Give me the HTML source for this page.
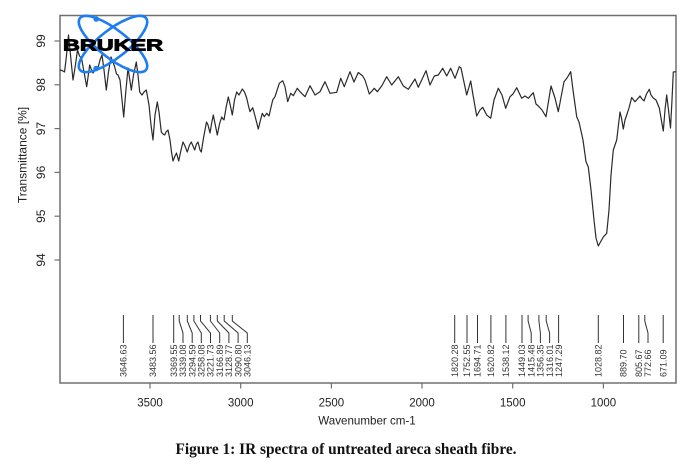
<!DOCTYPE html>
<html><head><meta charset="utf-8"><style>
html,body{margin:0;padding:0;background:#fff;}
svg{display:block;}
text{font-family:"Liberation Sans",Arial,sans-serif;}
</style></head><body>
<svg width="691" height="470" viewBox="0 0 691 470" xmlns="http://www.w3.org/2000/svg">
<rect width="691" height="470" fill="#fff"/>
<!-- plot box -->
<rect x="60" y="15.5" width="616" height="367.5" fill="none" stroke="#707070" stroke-width="1.5"/>
<!-- y ticks -->
<g stroke="#707070" stroke-width="1.2">
<line x1="54.5" y1="41" x2="60" y2="41"/>
<line x1="54.5" y1="84.8" x2="60" y2="84.8"/>
<line x1="54.5" y1="128.6" x2="60" y2="128.6"/>
<line x1="54.5" y1="172.4" x2="60" y2="172.4"/>
<line x1="54.5" y1="216.2" x2="60" y2="216.2"/>
<line x1="54.5" y1="260" x2="60" y2="260"/>
</g>
<g font-size="12" fill="#222" text-anchor="middle">
<text transform="translate(45,41) rotate(-90)">99</text>
<text transform="translate(45,84.8) rotate(-90)">98</text>
<text transform="translate(45,128.6) rotate(-90)">97</text>
<text transform="translate(45,172.4) rotate(-90)">96</text>
<text transform="translate(45,216.2) rotate(-90)">95</text>
<text transform="translate(45,260) rotate(-90)">94</text>
</g>
<text transform="translate(26.5,155) rotate(-90)" font-size="12" fill="#222" text-anchor="middle">Transmittance [%]</text>
<!-- x ticks -->
<g stroke="#707070" stroke-width="1.2">
<line x1="150" y1="383" x2="150" y2="388.5"/>
<line x1="240.7" y1="383" x2="240.7" y2="388.5"/>
<line x1="331.4" y1="383" x2="331.4" y2="388.5"/>
<line x1="422" y1="383" x2="422" y2="388.5"/>
<line x1="512.7" y1="383" x2="512.7" y2="388.5"/>
<line x1="603.4" y1="383" x2="603.4" y2="388.5"/>
</g>
<g font-size="11.5" fill="#222" text-anchor="middle">
<text x="150" y="406.5">3500</text>
<text x="240.7" y="406.5">3000</text>
<text x="331.4" y="406.5">2500</text>
<text x="422" y="406.5">2000</text>
<text x="512.7" y="406.5">1500</text>
<text x="603.4" y="406.5">1000</text>
</g>
<text x="367" y="424.5" font-size="11.6" fill="#222" text-anchor="middle">Wavenumber cm-1</text>

<!-- spectrum -->
<polyline fill="none" stroke="#2a2a2a" stroke-width="1.2" stroke-linejoin="round" points="
60,70 62,70.5 64.5,72 66,60 68.5,35 70.5,55 73,80 75,68 77.5,50 79.5,56 81.5,58 84,72 86.7,86.7 89.7,65 91.5,70 93,73 95,70 98,68 100,60 102,55 104,70 106.3,90 108.5,72 111,57 113,62 114.7,67 116.5,74 118,75 120,80 122,100 123.7,117 125.5,95 128,68 129.5,78 131.3,90 133.5,75 136.3,62 138,75 139.7,92 142,95 144,92 146.3,90 149,105 151,125 153,140 155,115 157.3,102 159,112 161.3,132 163,134 164.7,135 166,132 168,130 170,140 171.5,152 173,161 175,156 176.5,153 178.7,161 181,150 183,142 185,146 187.3,152 189.5,145 191.3,142 193,146 194.7,150 196.5,144 198,142 200,150 201.3,152 203.5,138 206.5,122 208,125 210,133 211.5,124 213.3,115 215.5,126 217.3,135 219.5,124 221.7,117 223,119 224,120 226,108 228.3,97 230,104 232.3,115 234.5,100 236.7,92 239,95 242.3,89 244.5,92 246.7,98 248.5,106 250,111.7 252.7,107.7 255,116 258.3,129 260.5,120 262.3,113.3 264.3,116.7 266.7,113.3 269,116 272.7,100 275,96.7 279.3,83.3 282.7,80.7 285,86.7 287.7,101.7 290.7,93.3 293.3,95.7 297.3,88.3 300,91.7 305,96.7 310,85.7 315,95 320,91.7 325,81.7 330,93.3 336.7,92.3 340.7,78.3 344.3,86.7 350,71.7 354,82 358.3,72.5 362.7,76 365,80 369.3,94 374.3,88.3 377.3,91.7 381.7,86 386.7,76.7 391.7,85 398.3,76.7 403.3,86 408.3,89.3 415,79 418.3,87.3 426,70.7 430,85 434.3,76 438.3,75 442.7,68.3 446.7,76 450.7,68.3 455,78.3 459.3,66.7 461,68 466.7,95 470.7,81 473,95 476.7,116 480,110 482.7,107.3 486.7,115 490.7,118.3 494,100 498.3,88.3 502,95 505.7,108.3 510,96.7 513,94 516.7,87.7 521.7,98.3 525,96 528.3,98.3 533.3,92.7 536,104 538.3,106 542,110 546,116.7 551,86 555,98 558.3,111.7 564,81.7 567,78 570.7,71.7 573,90 576.7,116.7 579,122 583,140 586,161.7 588.3,167 591,190 594,220 596,238 598.3,246 600.5,242 603.3,237 606.7,233.3 609,210 611,175 613.3,150 616.7,140 620,112 621.5,118 623.3,129 625,120 626.7,115 629,108 631.7,97.5 635,101.7 637.5,99 640,96 642,99 644,101 646.5,94 649.3,89.3 651,95 653.3,98 656,100 659.3,108 661,118 663.3,131 665,110 666.7,95 668.5,110 670.5,128 672,100 673.3,72 676,71.7"/>

<!-- peak marker lines -->
<g fill="none" stroke="#333" stroke-width="1">
<polyline points="123.4,315 123.4,343"/>
<polyline points="153,315 153,343"/>
<polyline points="173.7,315 173.7,343"/>
<polyline points="179.2,315 179.2,321 183,333 183,343"/>
<polyline points="187.3,315 187.3,321 192.2,333 192.2,343"/>
<polyline points="193.9,315 193.9,321 201.3,333 201.3,343"/>
<polyline points="200.5,315 200.5,321 210.5,333 210.5,343"/>
<polyline points="210.4,315 210.4,321 219.7,333 219.7,343"/>
<polyline points="217.3,315 217.3,321 228.9,333 228.9,343"/>
<polyline points="224.2,315 224.2,321 238.1,333 238.1,343"/>
<polyline points="232.3,315 232.3,321 247.3,333 247.3,343"/>
<polyline points="454.7,315 454.7,343"/>
<polyline points="467,315 467,343"/>
<polyline points="477.5,315 477.5,343"/>
<polyline points="490.9,315 490.9,343"/>
<polyline points="505.9,315 505.9,343"/>
<polyline points="522,315 522,343"/>
<polyline points="528.1,315 528.1,321 531.2,333 531.2,343"/>
<polyline points="538.9,315 538.9,321 540.4,333 540.4,343"/>
<polyline points="546.2,315 546.2,321 549.6,333 549.6,343"/>
<polyline points="558.6,315 558.6,343"/>
<polyline points="598.3,315 598.3,343"/>
<polyline points="623.5,315 623.5,343"/>
<polyline points="638.8,315 638.8,343"/>
<polyline points="644.8,315 644.8,321 648,333 648,343"/>
<polyline points="663.2,315 663.2,343"/>
</g>
<g font-size="9" fill="#333">
<text transform="translate(126.6,377) rotate(-90)">3646.63</text>
<text transform="translate(156.2,377) rotate(-90)">3483.56</text>
<text transform="translate(176.9,377) rotate(-90)">3369.55</text>
<text transform="translate(186.2,377) rotate(-90)">3339.08</text>
<text transform="translate(195.4,377) rotate(-90)">3294.59</text>
<text transform="translate(204.5,377) rotate(-90)">3258.08</text>
<text transform="translate(213.7,377) rotate(-90)">3221.73</text>
<text transform="translate(222.9,377) rotate(-90)">3166.89</text>
<text transform="translate(232.1,377) rotate(-90)">3128.77</text>
<text transform="translate(241.3,377) rotate(-90)">3090.80</text>
<text transform="translate(250.5,377) rotate(-90)">3046.13</text>
<text transform="translate(457.9,377) rotate(-90)">1820.28</text>
<text transform="translate(470.2,377) rotate(-90)">1752.55</text>
<text transform="translate(480.7,377) rotate(-90)">1694.71</text>
<text transform="translate(494.1,377) rotate(-90)">1620.82</text>
<text transform="translate(509.1,377) rotate(-90)">1538.12</text>
<text transform="translate(525.2,377) rotate(-90)">1449.03</text>
<text transform="translate(534.4,377) rotate(-90)">1415.48</text>
<text transform="translate(543.6,377) rotate(-90)">1356.35</text>
<text transform="translate(552.8,377) rotate(-90)">1316.01</text>
<text transform="translate(561.8,377) rotate(-90)">1247.29</text>
<text transform="translate(601.5,377) rotate(-90)">1028.82</text>
<text transform="translate(626.7,377) rotate(-90)">889.70</text>
<text transform="translate(642,377) rotate(-90)">805.67</text>
<text transform="translate(651.2,377) rotate(-90)">772.66</text>
<text transform="translate(666.4,377) rotate(-90)">671.09</text>
</g>

<!-- Bruker logo -->
<g fill="none" stroke="#1c7ef0" stroke-width="2.6">
<ellipse cx="113" cy="44" rx="42" ry="14" transform="rotate(38 113 44)"/>
<ellipse cx="113" cy="44" rx="42" ry="14" transform="rotate(-38 113 44)"/>
</g>
<circle cx="96.2" cy="19" r="2.8" fill="#1c7ef0"/>
<circle cx="96.2" cy="68.5" r="2.8" fill="#1c7ef0"/>
<text x="63" y="50.5" font-size="16" font-weight="bold" fill="#000" stroke="#000" stroke-width="0.9" textLength="100" lengthAdjust="spacingAndGlyphs">BRUKER</text>

<!-- caption -->
<text x="346" y="454" font-family="'Liberation Serif','Times New Roman',serif" font-size="15.3" font-weight="bold" fill="#111" text-anchor="middle" textLength="341" lengthAdjust="spacingAndGlyphs" style="font-family:'Liberation Serif','Times New Roman',serif">Figure 1: IR spectra of untreated areca sheath fibre.</text>
</svg>
</body></html>
